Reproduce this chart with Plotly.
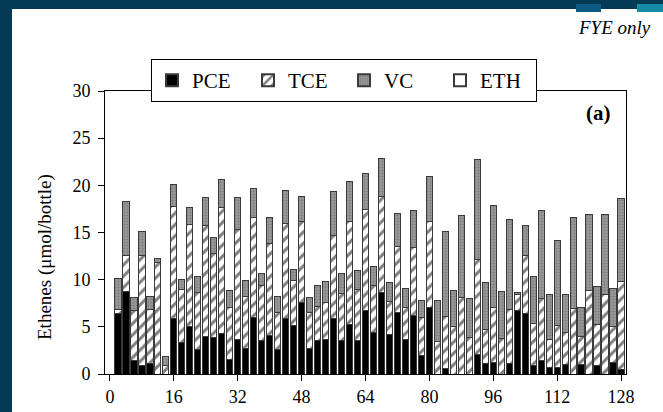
import plotly.graph_objects as go

# ---- data ----
bottle = list(range(2, 130, 2))
pce = [6.4, 8.7, 1.4, 0.9, 1.1, 0.0, 0.0, 5.9, 3.3, 5.0,
       2.6, 4.0, 3.9, 4.3, 1.5, 3.7, 2.7, 6.0, 3.6, 4.1,
       2.6, 5.85, 5.1, 7.6, 2.7, 3.5, 3.7, 5.9, 3.5, 5.3,
       3.5, 6.7, 4.4, 8.6, 4.2, 6.5, 3.7, 6.2, 2.0, 7.1,
       0.0, 0.55, 0.0, 0.0, 0.0, 2.1, 1.1, 1.2, 0.0, 1.1,
       6.7, 6.4, 0.9, 1.4, 0.65, 0.65, 1.0, 0.0, 1.0, 0.0,
       0.9, 0.0, 1.2, 0.5]
tce = [0.4, 3.9, 5.3, 11.7, 5.7, 11.8, 0.9, 11.9, 5.7, 10.85,
       6.0, 11.7, 8.9, 13.3, 5.5, 11.6, 5.55, 10.6, 5.8, 9.7,
       3.95, 10.15, 4.85, 8.6, 3.8, 3.7, 3.9, 8.8, 5.0, 10.9,
       5.5, 10.7, 5.0, 10.25, 3.5, 7.0, 3.3, 7.2, 4.0, 9.1,
       3.4, 5.55, 5.0, 8.1, 3.9, 10.0, 3.6, 5.9, 3.8, 5.7,
       1.7, 6.2, 4.5, 6.6, 3.05, 4.45, 3.4, 6.9, 3.0, 8.8,
       4.4, 8.4, 3.8, 9.3]
vc = [3.3, 5.7, 1.4, 2.5, 1.4, 0.4, 1.0, 2.3, 1.0, 1.85,
      1.7, 3.05, 1.7, 3.0, 1.8, 3.4, 1.65, 3.1, 1.3, 2.8,
      1.7, 3.4, 1.15, 2.6, 1.6, 2.2, 2.2, 4.6, 2.15, 4.2,
      2.0, 3.9, 2.0, 3.95, 2.0, 3.5, 2.1, 3.9, 1.8, 4.7,
      4.4, 9.0, 3.8, 8.7, 4.1, 10.6, 5.0, 10.8, 4.9, 9.6,
      0.2, 3.15, 4.9, 9.3, 4.7, 9.0, 4.0, 9.7, 3.0, 8.1,
      4.0, 8.5, 4.1, 8.8]
eth = [0.0] * len(bottle)

x_ticks = [0, 16, 32, 48, 64, 80, 96, 112, 128]
y_ticks = [0, 5, 10, 15, 20, 25, 30]

# ---- styling ----
SERIF = "Liberation Serif"
W, H = 663, 412
L, R, T, B = 105, 37, 91, 38
pw, ph = W - L - R, H - T - B


def px_x(px):
    return (px - L) / pw


def px_y(py):
    return (H - B - py) / ph


outline = dict(color="#3a3a3a", width=1)
bar_w = 1.55

fig = go.Figure()
fig.add_trace(go.Bar(x=bottle, y=pce, name="PCE", width=bar_w,
                     marker=dict(color="black", line=outline)))
fig.add_trace(go.Bar(x=bottle, y=tce, name="TCE", width=bar_w,
                     marker=dict(color="white", line=outline,
                                 pattern=dict(shape="/", fgcolor="black", bgcolor="white",
                                              size=8, solidity=0.38))))
fig.add_trace(go.Bar(x=bottle, y=vc, name="VC", width=bar_w,
                     marker=dict(color="#8f8f8f", line=outline,
                                 pattern=dict(shape=".", fgcolor="#5e5e5e", bgcolor="#999999",
                                              size=3, solidity=0.35))))
fig.add_trace(go.Bar(x=bottle, y=eth, name="ETH", width=bar_w,
                     marker=dict(color="white", line=outline)))

fig.update_layout(
    width=W, height=H,
    margin=dict(l=L, r=R, t=T, b=B, pad=0, autoexpand=False),
    barmode="stack",
    paper_bgcolor="white", plot_bgcolor="white",
    font=dict(family=SERIF, size=18, color="black"),
    showlegend=True,
    legend=dict(orientation="h", x=px_x(151), y=px_y(59), xanchor="left", yanchor="top",
                bgcolor="white", bordercolor="black", borderwidth=1,
                font=dict(family=SERIF, size=21, color="black"),
                entrywidth=51, entrywidthmode="pixels", traceorder="normal",
                itemsizing="constant"),
    xaxis=dict(range=[-1.25, 129.25], tickvals=x_ticks, ticktext=[str(v) for v in x_ticks],
               showline=True, linecolor="black", linewidth=1, mirror=True,
               ticks="outside", ticklen=6, tickcolor="black", showgrid=False, zeroline=False,
               tickfont=dict(family=SERIF, size=18)),
    yaxis=dict(range=[0, 30], tickvals=y_ticks,
               showline=True, linecolor="black", linewidth=1, mirror=True,
               ticks="outside", ticklen=6, tickcolor="black", showgrid=False, zeroline=False,
               tickfont=dict(family=SERIF, size=18), ticklabelstandoff=4),
    annotations=[
        dict(text="Ethenes (μmol/bottle)", xref="paper", yref="paper",
             x=px_x(45), y=px_y(257), textangle=-90, showarrow=False,
             xanchor="center", yanchor="middle", font=dict(family=SERIF, size=19)),
        dict(text="<i>FYE only</i>", xref="paper", yref="paper",
             x=px_x(653), y=px_y(28), showarrow=False,
             xanchor="right", yanchor="middle", font=dict(family=SERIF, size=19)),
        dict(text="<b>(a)</b>", xref="paper", yref="paper",
             x=px_x(613), y=px_y(113), showarrow=False,
             xanchor="right", yanchor="middle", font=dict(family=SERIF, size=21)),
    ],
    shapes=[
        dict(type="rect", xref="paper", yref="paper", layer="above",
             x0=px_x(0), x1=px_x(W), y0=px_y(9), y1=px_y(0),
             fillcolor="#053a57", line=dict(width=0)),
        dict(type="rect", xref="paper", yref="paper", layer="above",
             x0=px_x(0), x1=px_x(12), y0=px_y(H), y1=px_y(0),
             fillcolor="#053a57", line=dict(width=0)),
        dict(type="rect", xref="paper", yref="paper", layer="above",
             x0=px_x(576), x1=px_x(601), y0=px_y(12), y1=px_y(4),
             fillcolor="#0d5a85", line=dict(width=0)),
        dict(type="rect", xref="paper", yref="paper", layer="above",
             x0=px_x(637), x1=px_x(W), y0=px_y(12), y1=px_y(4),
             fillcolor="#168aa6", line=dict(width=0)),
    ],
)

fig.write_html("out.html",
               config={"displayModeBar": False},
               post_script="document.body.style.margin='0';document.body.style.overflow='hidden';")
